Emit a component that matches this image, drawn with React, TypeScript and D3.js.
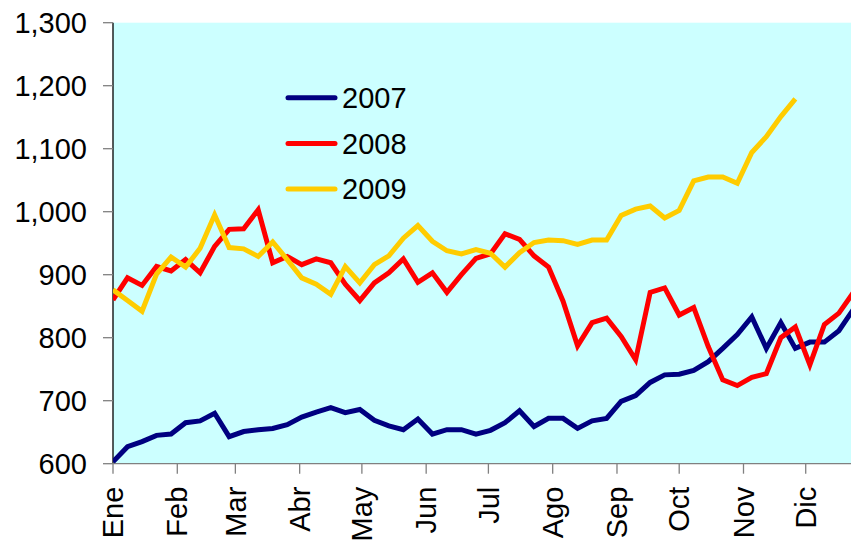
import React from "react";
import * as d3 from "d3";

const months = ["Ene", "Feb", "Mar", "Abr", "May", "Jun", "Jul", "Ago", "Sep", "Oct", "Nov", "Dic"];
const yTicks = [600, 700, 800, 900, 1000, 1100, 1200, 1300];
const seriesNames = ["2007", "2008", "2009"];
const seriesColors = ["#000080", "#FF0000", "#FFCC00"];

const s2007 = [603,627,635,645,647,665,668,680,643,651,654,656,662,674,682,689,681,686,669,660,654,671,647,654,654,647,653,665,684,659,672,672,656,668,672,699,708,729,741,742,748,762,783,805,833,783,824,783,793,793,811,845];
const s2008 = [860,895,883,913,906,924,903,945,972,973,1003,919,929,916,925,919,885,859,887,903,925,888,903,872,900,926,933,965,956,930,912,858,787,824,831,802,765,872,879,836,848,786,733,724,737,743,800,817,757,821,839,872];
const s2009 = [876,859,842,901,928,912,942,995,943,941,929,952,924,895,885,869,913,887,916,930,958,978,953,938,933,940,934,912,935,951,955,954,948,955,955,994,1004,1009,990,1002,1049,1055,1055,1045,1094,1119,1151,1179];

const allSeries = [s2007, s2008, s2009];

const W = 851;
const H = 541;
const left = 113;
const top = 22.7;
const bottom = 463.7;
const pxPerDay = 2.074;

const x = d3.scaleTime()
  .domain([new Date(2007, 0, 1), new Date(2008, 0, 1)])
  .range([left, left + 365 * pxPerDay]);
const y = d3.scaleLinear().domain([600, 1300]).range([bottom, top]);

const weekDate = (i: number) => d3.timeDay.offset(new Date(2007, 0, 1), i * 7);
const fmt = d3.format(",");

export default function App() {
  const line = d3.line<number>()
    .x((_, i) => x(weekDate(i)))
    .y((v) => y(v));
  const monthDates = months.map((_, i) => new Date(2007, i, 1));
  const font = "'Liberation Sans', Arial, sans-serif";
  return (
    <svg width={W} height={H} style={{ position: "fixed", left: 0, top: 0, background: "#fff" }}>
      <defs>
        <clipPath id="plot">
          <rect x={left} y={top - 5} width={W - left} height={bottom - top + 5} />
        </clipPath>
      </defs>
      <rect x={left} y={top} width={W - left} height={bottom - top} fill="#CCFFFF" />
      {/* y axis */}
      <line x1={left} x2={left} y1={top} y2={bottom} stroke="#000" strokeWidth={1.3} />
      {yTicks.map((t) => (
        <g key={t}>
          <line x1={left - 10} x2={left} y1={y(t)} y2={y(t)} stroke="#808080" strokeWidth={1.3} />
          <text x={87} y={y(t)} dy="0.35em" textAnchor="end" fontFamily={font} fontSize={29} fill="#000">
            {fmt(t)}
          </text>
        </g>
      ))}
      {/* x axis */}
      <line x1={left} x2={W} y1={bottom} y2={bottom} stroke="#808080" strokeWidth={1.3} />
      {monthDates.map((d, i) => (
        <g key={months[i]}>
          <line x1={x(d)} x2={x(d)} y1={bottom} y2={bottom + 10} stroke="#808080" strokeWidth={1.3} />
          <text
            transform={`translate(${x(d)},${bottom + 23}) rotate(-90)`}
            dy="0.35em"
            textAnchor="end"
            fontFamily={font}
            fontSize={29}
            fill="#000"
          >
            {months[i]}
          </text>
        </g>
      ))}
      <g clipPath="url(#plot)">
        {allSeries.map((s, k) => (
          <path key={k} d={line(s) || ""} fill="none" stroke={seriesColors[k]} strokeWidth={5} strokeLinejoin="miter" />
        ))}
      </g>
      {/* legend */}
      {seriesNames.map((n, k) => (
        <g key={n}>
          <line x1={288} x2={335} y1={97.7 + k * 45.7} y2={97.7 + k * 45.7} stroke={seriesColors[k]} strokeWidth={5} strokeLinecap="round" />
          <text x={342} y={97.7 + k * 45.7} dy="0.35em" fontFamily={font} fontSize={29} fill="#000">
            {n}
          </text>
        </g>
      ))}
    </svg>
  );
}
